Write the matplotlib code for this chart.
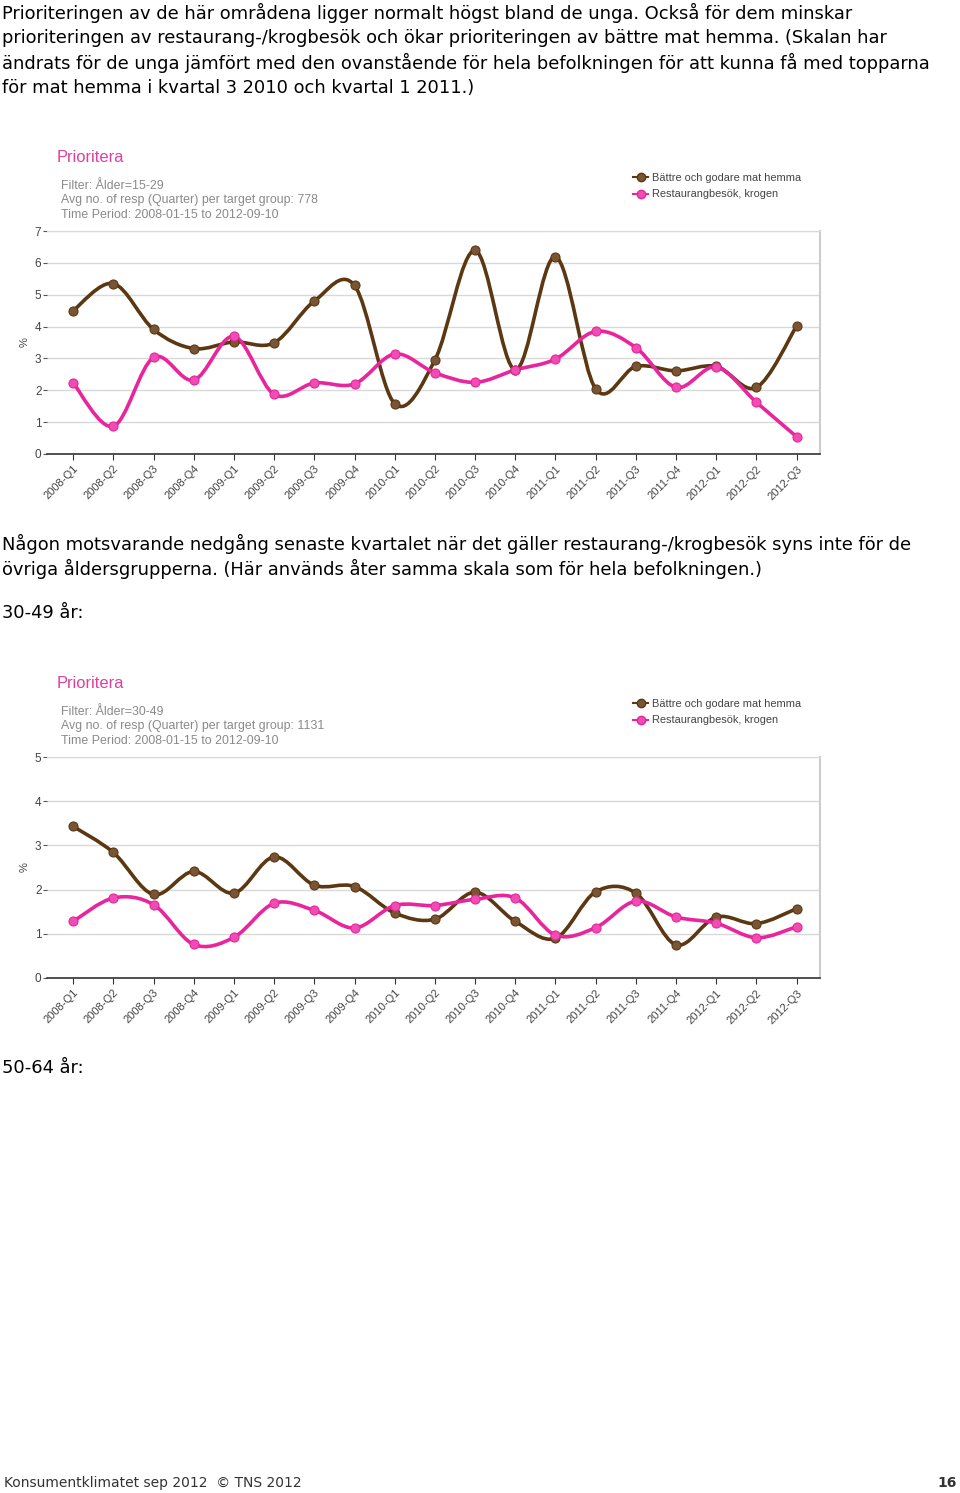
import numpy as np
import matplotlib
matplotlib.use('Agg')
import matplotlib.pyplot as plt
from matplotlib.path import Path
from matplotlib.patches import PathPatch
from matplotlib.lines import Line2D

quarters = ['2008-Q1', '2008-Q2', '2008-Q3', '2008-Q4', '2009-Q1', '2009-Q2',
            '2009-Q3', '2009-Q4', '2010-Q1', '2010-Q2', '2010-Q3', '2010-Q4',
            '2011-Q1', '2011-Q2', '2011-Q3', '2011-Q4', '2012-Q1', '2012-Q2',
            '2012-Q3']

# 15-29 years
mat_1529 = [4.50, 5.35, 3.91, 3.31, 3.52, 3.49, 4.80, 5.29, 1.58, 2.95,
            6.39, 2.64, 6.19, 2.04, 2.75, 2.61, 2.75, 2.09, 4.02]
rest_1529 = [2.23, 0.87, 3.03, 2.32, 3.69, 1.87, 2.23, 2.20, 3.14, 2.55,
             2.25, 2.64, 2.98, 3.85, 3.34, 2.09, 2.73, 1.62, 0.54]

# 30-49 years
mat_3049 = [3.43, 2.84, 1.89, 2.41, 1.92, 2.74, 2.10, 2.07, 1.47, 1.33,
            1.94, 1.28, 0.90, 1.95, 1.92, 0.75, 1.38, 1.23, 1.57]
rest_3049 = [1.28, 1.81, 1.66, 0.76, 0.92, 1.69, 1.53, 1.13, 1.64, 1.64,
             1.78, 1.81, 0.97, 1.14, 1.74, 1.38, 1.24, 0.91, 1.16]

series_names = ['Bättre och godare mat hemma', 'Restaurangbesök, krogen']

BROWN = '#5b3812'
BROWN_M = '#7a5535'
PINK = '#e8259c'
PINK_M = '#f04cb4'
GRID = '#d9d9d9'

W, H = 960, 1493
fig = plt.figure(figsize=(W / 100, H / 100), dpi=100)
fig.patch.set_facecolor('white')


def fx(px):
    return px / W


def fy(py):
    return 1 - py / H


def smooth_path(x, y):
    # Catmull-Rom through the points, drawn as cubic Bezier segments
    x = np.asarray(x, float)
    y = np.asarray(y, float)
    n = len(x)
    verts = [(x[0], y[0])]
    codes = [Path.MOVETO]
    for i in range(n - 1):
        x0, y0 = (x[i - 1], y[i - 1]) if i > 0 else (x[i], y[i])
        x3, y3 = (x[i + 2], y[i + 2]) if i + 2 < n else (x[i + 1], y[i + 1])
        c1 = (x[i] + (x[i + 1] - x0) / 6, y[i] + (y[i + 1] - y0) / 6)
        c2 = (x[i + 1] - (x3 - x[i]) / 6, y[i + 1] - (y3 - y[i]) / 6)
        verts += [c1, c2, (x[i + 1], y[i + 1])]
        codes += [Path.CURVE4] * 3
    return Path(verts, codes)


def draw_chart(top, bottom, ymax, mat, rest, filt, nresp):
    ax = fig.add_axes([fx(47), fy(bottom), fx(820 - 47), (bottom - top) / H])
    xs = np.arange(len(quarters))
    for vals, lc, mc in [(mat, BROWN, BROWN_M), (rest, PINK, PINK_M)]:
        ax.add_patch(PathPatch(smooth_path(xs, vals), facecolor='none',
                               edgecolor=lc, lw=2.6, zorder=3,
                               capstyle='round', joinstyle='round'))
        ax.plot(xs, vals, 'o', ms=6.5, mfc=mc, mec=lc, mew=0.8, zorder=4)
    ax.set_xlim(-0.65, 18.58)
    ax.set_ylim(0, ymax)
    ax.set_yticks(range(0, ymax + 1))
    ax.yaxis.grid(True, color=GRID, lw=1)
    ax.set_axisbelow(True)
    ax.set_xticks(xs)
    ax.set_xticklabels(quarters, rotation=45, ha='right', rotation_mode='anchor',
                       fontsize=8, color='#444444', family='Liberation Sans')
    for lab in ax.get_yticklabels():
        lab.set_family('Liberation Sans')
    ax.tick_params(axis='y', labelsize=8.5, labelcolor='#444444', color='#555555',
                   length=3, width=0.8, pad=1)
    ax.tick_params(axis='x', color='#333333', length=4, width=0.8, pad=3)
    ax.spines['left'].set_visible(False)
    ax.spines['top'].set_color(GRID)
    ax.spines['right'].set_color('#cccccc')
    ax.spines['right'].set_linewidth(1.5)
    ax.spines['bottom'].set_color('#333333')
    ax.spines['bottom'].set_linewidth(1.2)
    ax.set_ylabel('%', fontsize=8, color='#444444', family='Liberation Sans')
    ax.yaxis.set_label_coords(fx(30 - 47) / fx(820 - 47), 0.5)

    # header texts
    fig.text(fx(57), fy(top - 74), 'Prioritera', fontsize=11.9, color='#e0409c',
             va='center', family='Liberation Sans')
    info = ['Filter: Ålder=' + filt,
            'Avg no. of resp (Quarter) per target group: ' + nresp,
            'Time Period: 2008-01-15 to 2012-09-10']
    for k, line in enumerate(info):
        fig.text(fx(61), fy(top - 45 + 14.3 * k), line, fontsize=8.9,
                 color='#8a8a8a', va='center', family='Liberation Sans')
    handles = [Line2D([], [], color=BROWN, lw=1.5, marker='o', ms=6,
                      mfc=BROWN_M, mec=BROWN),
               Line2D([], [], color=PINK, lw=1.5, marker='o', ms=6,
                      mfc=PINK_M, mec=PINK)]
    fig.legend(handles, series_names, loc='upper left',
               bbox_to_anchor=(fx(623), fy(top - 68)), frameon=False,
               handlelength=1.4, handletextpad=0.3, labelspacing=0.6,
               prop={'family': 'Liberation Sans', 'size': 7.9},
               labelcolor='#444444')
    return ax


draw_chart(231, 454, 7, mat_1529, rest_1529, '15-29', '778')
draw_chart(757, 978, 5, mat_3049, rest_3049, '30-49', '1131')

body = dict(fontsize=12.9, color='black', va='center', family='DejaVu Sans')
para1 = ['Prioriteringen av de här områdena ligger normalt högst bland de unga. Också för dem minskar',
         'prioriteringen av restaurang-/krogbesök och ökar prioriteringen av bättre mat hemma. (Skalan har',
         'ändrats för de unga jämfört med den ovanstående för hela befolkningen för att kunna få med topparna',
         'för mat hemma i kvartal 3 2010 och kvartal 1 2011.)']
for k, line in enumerate(para1):
    fig.text(fx(2), fy(13 + 25 * k), line, **body)

para2 = ['Någon motsvarande nedgång senaste kvartalet när det gäller restaurang-/krogbesök syns inte för de',
         'övriga åldersgrupperna. (Här används åter samma skala som för hela befolkningen.)']
for k, line in enumerate(para2):
    fig.text(fx(2), fy(544 + 25 * k), line, **body)

fig.text(fx(2), fy(613), '30-49 år:', **body)
fig.text(fx(2), fy(1068), '50-64 år:', **body)

fig.text(fx(4), fy(1483), 'Konsumentklimatet sep 2012  © TNS 2012', fontsize=10,
         color='#333333', va='center', family='DejaVu Sans')
fig.text(fx(957), fy(1483), '16', fontsize=10, color='#333333', va='center',
         ha='right', fontweight='bold', family='DejaVu Sans')

fig.savefig('out.png', dpi=100)
